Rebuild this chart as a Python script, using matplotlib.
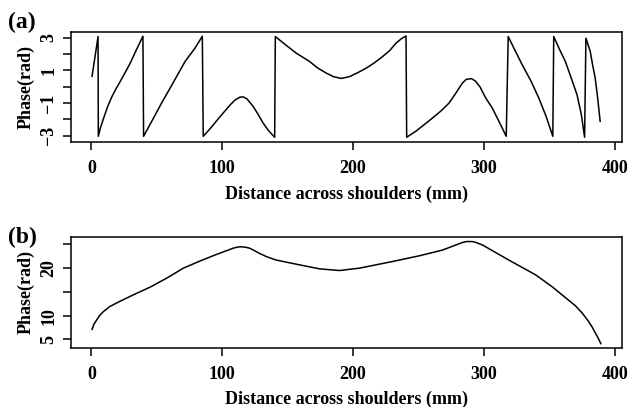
import matplotlib
matplotlib.use("Agg")
import matplotlib.pyplot as plt

# (a) wrapped phase
dist_a = [0.5, 3.0, 5.1,
          5.3, 7.0, 9.4, 12.5, 15.8, 19.0, 22.1, 26.0, 29.7, 34.0, 39.4,
          39.9, 47.5, 54.0, 60.2, 66.0, 71.6, 79.2, 84.8,
          85.5, 91.0, 98.2, 106.0, 110.0, 113.5, 116.0, 119.0, 123.6, 127.5, 131.2, 135.5, 140.1,
          140.6, 148.0, 156.6, 166.8, 173.0, 179.5, 185.0, 191.0, 197.3, 204.0, 210.0, 216.0,
          222.7, 228.0, 232.9, 237.0, 240.5,
          241.0, 248.0, 254.0, 260.7, 267.0, 273.4, 278.5, 283.6, 286.5, 290.5, 293.5, 297.0,
          301.4, 306.4, 311.5, 317.1,
          318.6, 324.0, 329.3, 336.0, 342.0, 347.5, 352.7,
          353.4, 357.5, 362.3, 366.5, 371.2, 374.5, 377.0,
          378.0, 381.3, 383.0, 385.1, 387.0, 388.9]
phase_a = [0.64, 1.96, 3.08,
           -3.04, -2.5, -1.92, -1.2, -0.59, -0.1, 0.33, 0.9, 1.45, 2.2, 3.10,
           -3.04, -1.92, -0.95, -0.08, 0.75, 1.55, 2.37, 3.10,
           -3.04, -2.55, -1.85, -1.12, -0.8, -0.64, -0.62, -0.75, -1.2, -1.7, -2.22, -2.7, -3.10,
           3.08, 2.6, 2.06, 1.55, 1.15, 0.84, 0.62, 0.51, 0.62, 0.88, 1.14, 1.45,
           1.86, 2.22, 2.68, 2.95, 3.12,
           -3.10, -2.73, -2.35, -1.92, -1.5, -1.0, -0.4, 0.23, 0.45, 0.5, 0.35, 0.0,
           -0.69, -1.3, -2.12, -3.04,
           3.08, 2.2, 1.35, 0.35, -0.69, -1.8, -3.04,
           3.08, 2.35, 1.55, 0.6, -0.49, -1.7, -3.10,
           2.98, 2.17, 1.4, 0.53, -0.7, -2.12]

# (b) unwrapped phase
dist_b = [0.5, 2.0, 4.3, 6.5, 9.4, 14.0, 19.5, 32.2, 44.9, 57.6, 70.3, 83.0, 95.7, 108.4,
          112.0, 114.7, 118.0, 121.0, 124.5, 128.6, 134.0, 141.3, 159.0, 174.4, 189.6, 204.9,
          230.2, 250.6, 268.3, 283.6, 287.0, 291.2, 294.0, 298.8, 319.1, 339.5, 352.1, 369.9,
          375.0, 380.0, 383.0, 385.1, 387.5, 389.4]
phase_b = [7.1, 8.2, 9.2, 10.1, 10.9, 11.9, 12.7, 14.4, 16.0, 17.9, 20.0, 21.5, 22.9, 24.2,
           24.45, 24.5, 24.4, 24.2, 23.7, 23.1, 22.4, 21.7, 20.7, 19.85, 19.5, 20.0,
           21.4, 22.6, 23.8, 25.4, 25.6, 25.6, 25.4, 24.9, 21.7, 18.6, 16.1, 12.1,
           10.6, 8.8, 7.5, 6.4, 5.2, 4.1]

xticks = [0, 100, 200, 300, 400]
yticks_a = [-3, -2, -1, 0, 1, 2, 3]
ylabels_a = ["\u22123", "", "\u22121", "", "1", "", "3"]
yticks_b = [5, 10, 15, 20, 25]
ylabels_b = ["5", "10", "", "20", ""]

plt.rcParams["font.family"] = ["Liberation Serif", "DejaVu Serif"]
plt.rcParams["axes.linewidth"] = 1.1

fig = plt.figure(figsize=(6.32, 4.07), dpi=100)
ax_a = fig.add_axes([0.1123, 0.6511, 0.8719, 0.2703])
ax_b = fig.add_axes([0.1123, 0.1457, 0.8719, 0.2713])


def style(ax, yt, yl, ylim):
    ax.set_xlim(-15.6, 405.6)
    ax.set_ylim(*ylim)
    ax.set_xticks(xticks)
    ax.set_xticklabels([str(t) for t in xticks], fontsize=13, fontweight="bold")
    ax.set_yticks(yt)
    ax.set_yticklabels(yl, fontsize=13, fontweight="bold", rotation=90, va="center")
    ax.tick_params(direction="out", length=6, width=1.1)
    ax.tick_params(axis="x", pad=7)
    ax.tick_params(axis="y", pad=4)
    ax.set_xlabel("Distance across shoulders (mm)", fontsize=13, fontweight="bold",
                  labelpad=6)
    ax.set_ylabel("Phase(rad)", fontsize=13, fontweight="bold", labelpad=4)


ax_a.plot(dist_a, phase_a, color="black", lw=1.1)
style(ax_a, yticks_a, ylabels_a, (-3.39, 3.36))

ax_b.plot(dist_b, phase_b, color="black", lw=1.1)
style(ax_b, yticks_b, ylabels_b, (3.25, 26.5))

fig.text(0.0127, 0.9447, "(a)", fontsize=17, fontweight="bold", ha="left", va="center")
fig.text(0.0127, 0.4165, "(b)", fontsize=17, fontweight="bold", ha="left", va="center")

fig.savefig("out.png", dpi=100)
